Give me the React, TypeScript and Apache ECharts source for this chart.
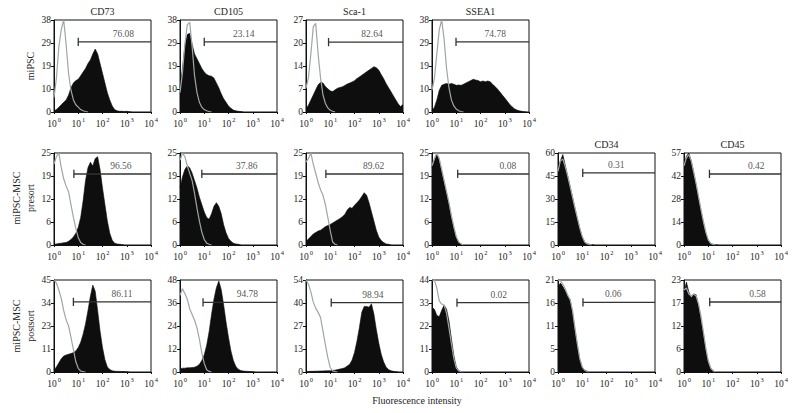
import React, { useEffect, useRef } from 'react';
import * as echarts from 'echarts';

// ---------- DATA ----------
const STEP = 0.1; // histogram bin width, in decades (log10 of fluorescence)
const xTickExponents = [0, 1, 2, 3, 4];
const rowLabels = ['miPSC', 'miPSC-MSC\npresort', 'miPSC-MSC\npostsort'];
const xAxisTitle = 'Fluorescence intensity';

const panelRow = [0, 0, 0, 0, 1, 1, 1, 1, 1, 1, 2, 2, 2, 2, 2, 2];
const panelCol = [0, 1, 2, 3, 0, 1, 2, 3, 4, 5, 0, 1, 2, 3, 4, 5];
const panelTitle = ['CD73', 'CD105', 'Sca-1', 'SSEA1', '', '', '', '', 'CD34', 'CD45', '', '', '', '', '', ''];
const yTickLabels = [
  [0, 10, 19, 29, 38], [0, 10, 19, 29, 38], [0, 7, 14, 20, 27], [0, 10, 19, 29, 38],
  [0, 6, 12, 19, 25], [0, 6, 12, 19, 25], [0, 6, 12, 19, 25], [0, 6, 12, 19, 25], [0, 15, 30, 45, 60], [0, 14, 28, 42, 57],
  [0, 11, 23, 34, 45], [0, 12, 24, 36, 48], [0, 13, 27, 40, 54], [0, 11, 22, 33, 44], [0, 5, 11, 16, 21], [0, 6, 12, 17, 23],
];
const gateStart = [1.0, 1.0, 0.93, 0.99, 0.82, 0.9, 0.82, 1.06, 1.02, 1.05, 0.8, 0.95, 1.04, 1.03, 1.03, 1.06];
const gateLevel = [29, 29, 20.5, 29, 19.3, 19.3, 19.3, 19.3, 47, 44, 34.3, 36.3, 40.7, 33.2, 15.9, 17.5];
const gatePercent = ['76.08', '23.14', '82.64', '74.78', '96.56', '37.86', '89.62', '0.08', '0.31', '0.42', '86.11', '94.78', '98.94', '0.02', '0.06', '0.58'];
const gateLabelAt = [2.86, 2.63, 2.72, 2.61, 2.76, 2.75, 2.79, 3.13, 2.4, 2.98, 2.8, 2.78, 2.76, 2.75, 2.28, 3.03];

// stained (black) histograms, one value per STEP from 10^0
const miPSC_CD73 = [0.5, 1, 2, 3, 4, 5, 7, 10, 12, 13, 13.5, 15, 16.5, 18, 20, 21.5, 24, 26, 24, 20, 16, 12, 8, 5, 2.5, 1, 0.5, 0.3, 0.3, 0.2, 0.3, 0.1, 0];
const miPSC_CD105 = [10, 18, 27, 32, 32.5, 28, 24, 22, 20, 18, 16.5, 15.5, 15, 14.8, 14, 12, 10, 7.5, 5.5, 4, 2.5, 1.5, 0.8, 0.5, 0.3, 0.2, 0];
const miPSC_Sca1 = [1, 2, 3.5, 5, 6.5, 8, 8.7, 8.5, 7.5, 6.8, 6.2, 6, 6.5, 7, 7.2, 7.4, 7.8, 8.2, 8.5, 8.8, 9.2, 9.8, 10.3, 10.8, 11.3, 11.8, 12.3, 12.8, 13.3, 13, 12.3, 11, 9.8, 8.4, 7.2, 6, 4.8, 3.6, 2.4, 1.6, 2.2];
const miPSC_SSEA1 = [0.5, 2, 5, 9, 11, 11.5, 11.8, 11.5, 11.8, 11.5, 11, 11.2, 11, 11.5, 12, 12.5, 13, 13.5, 13.2, 13, 12.5, 12.8, 12.5, 12.8, 12.5, 11.5, 10.5, 9.5, 8.3, 7, 5.8, 4.5, 3.2, 2.2, 1.3, 0.8, 0.5, 0.3, 0.1, 0];
const pre_CD73 = [0.2, 0.3, 0.4, 0.5, 0.6, 0.7, 1, 1.5, 2.2, 3.2, 4.8, 7.5, 12, 17.5, 21, 22.5, 21.5, 23.5, 24, 20.5, 15.5, 11, 6.5, 3.2, 1.3, 0.5, 0.3, 0.2, 0.1, 0];
const pre_CD105 = [15.5, 18.5, 20.5, 21.5, 21, 19.5, 17.5, 15.5, 13, 11, 9, 7.5, 7, 8.5, 10.5, 11.5, 10.5, 8.5, 5.5, 3.3, 1.8, 1, 0.5, 0.3, 0.2, 0];
const pre_Sca1 = [1, 1.6, 2.3, 3, 3.4, 3.8, 4, 4.5, 5, 5.3, 5.6, 6, 6.4, 6.8, 7.2, 7.7, 8.3, 9.5, 10.2, 10, 10.8, 11.5, 12.2, 13.2, 14.2, 13.5, 11.5, 9, 6.5, 4, 2.2, 1.2, 0.7, 0.3, 0.2, 0];
const pre_SSEA1 = [21, 23, 24.5, 23, 20, 17, 14, 11, 7.5, 4.5, 2, 0.7, 0.2, 0];
const pre_CD34 = [50, 55, 59, 52, 45, 38, 31, 24, 17, 10.5, 5, 2, 0.8, 0.4, 0.2, 0];
const pre_CD45 = [50, 55, 57, 52, 45, 37, 29, 21, 14, 7.5, 3, 1, 0.4, 0.2, 0];
const post_CD73 = [1, 2.5, 4.5, 6.5, 7.8, 8.3, 8.7, 9, 9.5, 10.3, 12, 14.5, 18.5, 23.5, 30, 37, 42.5, 39.5, 30, 20, 12, 6, 2.5, 1.2, 0.6, 0.4, 0.3, 0.3, 0.2, 0.2, 0.1, 0];
const post_CD105 = [1.5, 2, 2, 2.2, 2.2, 2.3, 2.5, 3, 4, 6, 9, 14, 21, 30, 38, 44, 47.5, 43, 35, 26, 18, 11, 6, 3, 1.5, 0.8, 0.5, 0.4, 0.3, 0.2, 0.1, 0];
const post_Sca1 = [0.3, 0.3, 0.4, 0.4, 0.5, 0.5, 0.6, 0.6, 0.7, 0.7, 0.8, 0.9, 1.1, 1.4, 1.7, 2, 2.5, 3.5, 4.5, 7, 11.5, 18, 26, 35, 38.5, 38.5, 38, 40, 34, 25, 17, 10.5, 6, 3, 1.5, 0.8, 0.4, 0.2, 0];
const post_SSEA1 = [31, 30, 27, 26.5, 29.5, 32, 30, 24.5, 16, 8, 2.5, 0.6, 0.2, 0];
const post_CD34 = [19.5, 20.3, 19.5, 18.5, 17.5, 16.5, 13.5, 9.5, 6, 2.8, 1, 0.4, 0.2, 0];
const post_CD45 = [20, 22.5, 20, 18.5, 19.5, 19.3, 16.5, 13, 9.5, 5.5, 2.5, 0.9, 0.3, 0];

// isotype control (grey line) histograms
const miPSC_CD73_iso = [6, 14, 27, 34, 38, 28, 16, 9, 5, 3, 2, 1, 0.5, 0.2, 0];
const miPSC_CD105_iso = [8, 16, 28, 36, 37, 27, 15, 8, 4, 2, 1, 0.5, 0.2, 0];
const miPSC_Sca1_iso = [7, 10, 17, 25, 26, 17, 10, 5, 2.5, 1.2, 0.5, 0.2, 0];
const miPSC_SSEA1_iso = [9, 14, 24, 34, 38, 30, 18, 10, 5, 2.5, 1.2, 0.5, 0.2, 0];
const pre_CD73_iso = [22, 24, 25, 21, 18, 16, 14.5, 11, 7.5, 4.5, 2, 0.7, 0.2, 0];
const pre_CD105_iso = [23, 25, 24, 21.5, 19.5, 17.5, 14, 10, 6.5, 3.5, 1.5, 0.5, 0.2, 0];
const pre_Sca1_iso = [22.5, 23.5, 25, 22, 19.5, 17, 15, 13.5, 11, 7.5, 3.9, 0.8, 0.2, 0];
const pre_SSEA1_iso = [21.5, 23.5, 25, 23.5, 20.5, 17.5, 14.5, 11.5, 8, 5, 2.3, 0.8, 0.3, 0];
const pre_CD34_iso = [48, 55, 56, 51, 45, 38, 31, 24, 17.5, 11, 5.5, 2, 0.7, 0.3, 0];
const pre_CD45_iso = [49, 54, 56, 52, 45, 38, 30, 22, 14.5, 8, 3.2, 1, 0.3, 0];
const post_CD73_iso = [45, 43.5, 40, 36, 30, 25.5, 22.5, 17, 11, 5, 1.8, 0.5, 0.2, 0];
const post_CD105_iso = [40, 43.5, 41, 38, 33, 30, 27, 23, 17, 10, 4.5, 1.2, 0.3, 0];
const post_Sca1_iso = [54, 51.5, 47, 41, 37.5, 35, 32, 24, 16, 8.5, 2.5, 0.6, 0.2, 0];
const post_SSEA1_iso = [44, 44, 40, 34, 32.5, 32, 28, 21, 13.5, 6.5, 2, 0.5, 0.2, 0];
const post_CD34_iso = [21, 20.8, 20, 19, 17.5, 16.5, 14, 10, 6.3, 3, 1.1, 0.4, 0.1, 0];
const post_CD45_iso = [20.5, 21, 19.5, 19, 19.5, 19, 17, 14, 10, 6, 2.8, 1, 0.3, 0];

const stained = [miPSC_CD73, miPSC_CD105, miPSC_Sca1, miPSC_SSEA1, pre_CD73, pre_CD105, pre_Sca1, pre_SSEA1, pre_CD34, pre_CD45, post_CD73, post_CD105, post_Sca1, post_SSEA1, post_CD34, post_CD45];
const isotype = [miPSC_CD73_iso, miPSC_CD105_iso, miPSC_Sca1_iso, miPSC_SSEA1_iso, pre_CD73_iso, pre_CD105_iso, pre_Sca1_iso, pre_SSEA1_iso, pre_CD34_iso, pre_CD45_iso, post_CD73_iso, post_CD105_iso, post_Sca1_iso, post_SSEA1_iso, post_CD34_iso, post_CD45_iso];

// ---------- LAYOUT / STYLE ----------
const FONT = "'Liberation Serif', 'DejaVu Serif', serif";
const COL_LEFT = [54, 180, 306, 432, 558, 684];
const ROW_TOP = [20, 153, 280];
const PW = 97;
const PH = 92;
const TEXT = '#1e1e1e';

function buildOption() {
  const grid: any[] = [];
  const xAxis: any[] = [];
  const yAxis: any[] = [];
  const series: any[] = [];
  const graphic: any[] = [];

  stained.forEach((hist, i) => {
    const r = panelRow[i];
    const c = panelCol[i];
    const ticks = yTickLabels[i];
    const yMax = ticks[ticks.length - 1];
    const iv = yMax / 4;
    grid.push({
      left: COL_LEFT[c], top: ROW_TOP[r], width: PW, height: PH,
      show: true, borderColor: '#111', borderWidth: 1, backgroundColor: '#fff',
    });
    xAxis.push({
      gridIndex: i, type: 'value', min: 0, max: 4, interval: 1,
      axisLine: { show: true, lineStyle: { color: '#111', width: 1 } },
      axisTick: { show: true, length: 2, lineStyle: { color: '#111' } },
      splitLine: { show: false },
      axisLabel: {
        margin: 4,
        formatter: (v: number) => `{b|10}{s|${xTickExponents[Math.round(v)]}}`,
        rich: {
          b: { fontSize: 9.5, fontFamily: FONT, color: TEXT, lineHeight: 13, verticalAlign: 'bottom' },
          s: { fontSize: 6.5, fontFamily: FONT, color: TEXT, lineHeight: 8, verticalAlign: 'top', padding: [0, 0, 0, 1] },
        },
      },
    });
    yAxis.push({
      gridIndex: i, type: 'value', min: 0, max: yMax, interval: iv,
      axisLine: { show: true, lineStyle: { color: '#111', width: 1 } },
      axisTick: { show: true, length: 3, lineStyle: { color: '#111' } },
      splitLine: { show: false },
      axisLabel: {
        margin: 3, fontSize: 9.5, fontFamily: FONT, color: TEXT,
        formatter: (v: number) => String(ticks[Math.round(v / iv)]),
      },
    });
    series.push({
      type: 'line', xAxisIndex: i, yAxisIndex: i, symbol: 'none', z: 2,
      data: hist.map((v, k) => [k * STEP, v]),
      lineStyle: { color: '#0e0e0e', width: 0.6 },
      areaStyle: { color: '#0e0e0e', opacity: 1 },
      silent: true,
    });
    series.push({
      type: 'line', xAxisIndex: i, yAxisIndex: i, symbol: 'none', z: 3,
      data: isotype[i].map((v, k) => [k * STEP, v]),
      lineStyle: { color: '#9ea6a6', width: 1.2 },
      silent: true,
    });
    const gy = gateLevel[i];
    const gs = gateStart[i];
    const d = yMax * 0.045;
    series.push({
      type: 'line', xAxisIndex: i, yAxisIndex: i, symbol: 'none', z: 4,
      data: [[gs, gy], [4, gy]],
      lineStyle: { color: '#333', width: 1.3 }, silent: true,
    });
    series.push({
      type: 'line', xAxisIndex: i, yAxisIndex: i, symbol: 'none', z: 4,
      data: [[gs, gy - d], [gs, gy + d]],
      lineStyle: { color: '#333', width: 1.3 }, silent: true,
    });
    series.push({
      type: 'scatter', xAxisIndex: i, yAxisIndex: i, symbolSize: 0, z: 5, silent: true,
      data: [[gateLabelAt[i], gy]],
      label: {
        show: true, position: 'top', distance: 3, formatter: gatePercent[i],
        fontSize: 9.5, fontFamily: FONT, color: TEXT,
      },
    });
    if (panelTitle[i]) {
      graphic.push({
        type: 'text', x: COL_LEFT[c] + PW / 2, y: ROW_TOP[r] - 9,
        style: { text: panelTitle[i], fontSize: 10, fontFamily: FONT, fill: TEXT, align: 'center', verticalAlign: 'middle' },
      });
    }
  });

  // row labels (rotated)
  const rowCx = [30, 23, 23];
  const rowCy = [66, 198, 326];
  rowLabels.forEach((t, r) => {
    graphic.push({
      type: 'text', x: rowCx[r], y: rowCy[r], rotation: Math.PI / 2,
      style: { text: t, fontSize: 10, fontFamily: FONT, fill: TEXT, align: 'center', verticalAlign: 'middle', lineHeight: 14 },
    });
  });
  graphic.push({
    type: 'text', x: 417, y: 400,
    style: { text: xAxisTitle, fontSize: 10, fontFamily: FONT, fill: TEXT, align: 'center', verticalAlign: 'middle' },
  });

  return {
    animation: false,
    backgroundColor: '#fff',
    grid, xAxis, yAxis, series, graphic,
  };
}

export default function App() {
  const ref = useRef<HTMLDivElement>(null);
  useEffect(() => {
    if (!ref.current) return;
    const chart = echarts.init(ref.current, undefined, { renderer: 'svg' });
    chart.setOption(buildOption() as any);
    return () => chart.dispose();
  }, []);
  return <div ref={ref} style={{ position: 'fixed', left: 0, top: 0, width: 795, height: 413, background: '#fff' }} />;
}
